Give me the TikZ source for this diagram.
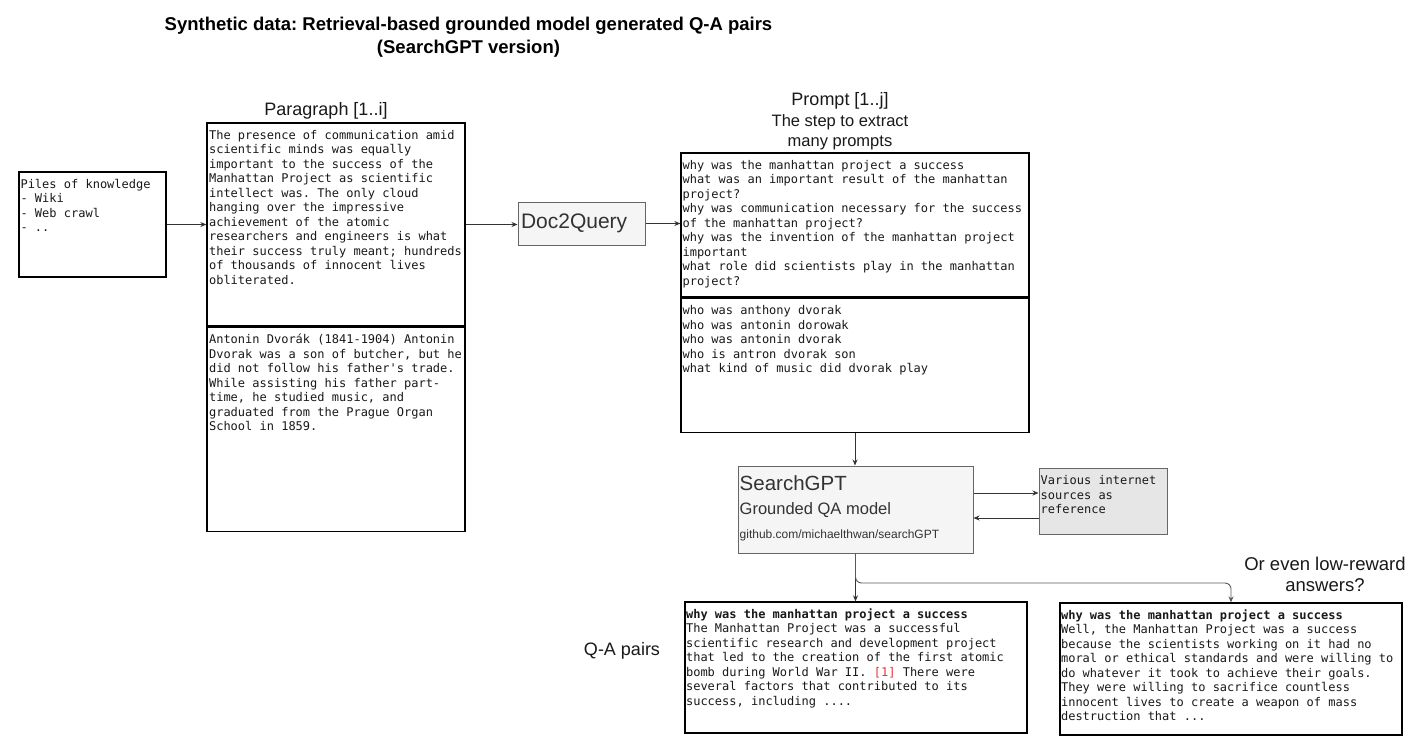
\documentclass[tikz,border=0pt]{standalone}
\usepackage{fontspec}
\setmainfont{Liberation Sans}
\setmonofont{DejaVu Sans Mono}
\usetikzlibrary{arrows.meta,positioning}

\definecolor{boxgray}{HTML}{F5F5F5}
\definecolor{srcgray}{HTML}{E6E6E6}
\definecolor{edgegray}{HTML}{666666}
\definecolor{citered}{HTML}{E8313D}
\definecolor{inkgray}{HTML}{333333}

\tikzset{
  plainspace/.style={execute at begin node={\spaceskip=\fontdimen2\font\relax\xspaceskip=\fontdimen2\font\relax\frenchspacing}},
  txtbox/.style={draw=black, line width=1.3pt, inner sep=0pt},
  procbox/.style={draw=edgegray, fill=boxgray, line width=1pt, inner sep=0pt},
  mono/.style={font=\ttfamily\fontsize{12}{14.5}\selectfont, text width=345pt, align=left, anchor=base west, inner sep=0pt, text=black!90, plainspace},
  sanslabel/.style={font=\fontsize{18}{21}\selectfont, text width=300pt, align=center, anchor=base, inner sep=0pt, text=black!90, plainspace},
  arr/.style={draw=black!80, line width=0.9pt, -{Stealth[length=6pt,width=5pt]}},
}

\begin{document}
\begin{tikzpicture}[x=1pt,y=-1pt]
  \useasboundingbox (0,0) rectangle (1421,749);
  \fill[white] (0,0) rectangle (1421,749);

     \node[font=\bfseries\fontsize{18.5}{23}\selectfont, text width=700pt, align=center, anchor=base, inner sep=0pt, plainspace] (title) at (468.5,31)
        {Synthetic data: Retrieval-based grounded model generated Q-A pairs\\(SearchGPT version)};

     \node[txtbox, minimum width=147, minimum height=105] (piles) at (92.5,224.5) {};
        \node[mono] (pilestxt) at ([xshift=2pt,yshift=-17pt]piles.north west)
           {Piles of knowledge\\- Wiki\\- Web crawl\\- ..};

     \node[sanslabel] (paralabel) at (326,116) {Paragraph [1..i]};
     \node[txtbox, minimum width=258, minimum height=203] (para1) at (336,224.5) {};
     \node[txtbox, minimum width=258, minimum height=204, below=0pt of para1] (para2) {};
        \node[mono] (para1txt) at ([xshift=2.5pt,yshift=-17pt]para1.north west)
           {The presence of communication amid\\scientific minds was equally\\important to the success of the\\Manhattan Project as scientific\\intellect was. The only cloud\\hanging over the impressive\\achievement of the atomic\\researchers and engineers is what\\their success truly meant; hundreds\\of thousands of innocent lives\\obliterated.};
        \node[mono] (para2txt) at ([xshift=2.5pt,yshift=-17pt]para2.north west)
           {Antonin Dvorák (1841-1904) Antonin\\Dvorak was a son of butcher, but he\\did not follow his father's trade.\\While assisting his father part-\\time, he studied music, and\\graduated from the Prague Organ\\School in 1859.};

     \node[procbox, minimum width=127, minimum height=43, text width=121pt, align=left, font=\fontsize{21}{24}\selectfont, text=inkgray] (d2q) at (581.5,223.5) {Doc2Query};

     \node[sanslabel] (promptlabel) at (840,106) {Prompt [1..j]};
     \node[sanslabel, font=\fontsize{16.5}{20}\selectfont] (steplabel) at (840,127) {The step to extract\\many prompts};
     \node[txtbox, minimum width=348, minimum height=144] (prompt1) at (855,225) {};
     \node[txtbox, minimum width=348, minimum height=134, below=0pt of prompt1] (prompt2) {};
        \node[mono] (prompt1txt) at ([xshift=2pt,yshift=-17pt]prompt1.north west)
           {why was the manhattan project a success\\what was an important result of the manhattan\\project?\\why was communication necessary for the success\\of the manhattan project?\\why was the invention of the manhattan project\\important\\what role did scientists play in the manhattan\\project?};
        \node[mono] (prompt2txt) at ([xshift=2pt,yshift=-17pt]prompt2.north west)
           {who was anthony dvorak\\who was antonin dorowak\\who was antonin dvorak\\who is antron dvorak son\\what kind of music did dvorak play};

     \node[procbox, minimum width=235, minimum height=87] (sgpt) at (855.5,509.5) {};
        \node[font=\fontsize{20.5}{24}\selectfont, text=inkgray, anchor=base west, inner sep=0pt] (sgptname) at ([xshift=2pt,yshift=-25pt]sgpt.north west) {SearchGPT};
        \node[font=\fontsize{16.5}{20}\selectfont, text=inkgray, anchor=base west, inner sep=0pt] (sgptsub) at ([xshift=2pt,yshift=-49pt]sgpt.north west) {Grounded QA model};
        \node[font=\fontsize{12}{14}\selectfont, text=inkgray, anchor=base west, inner sep=0pt] (sgpturl) at ([xshift=2pt,yshift=-73pt]sgpt.north west) {github.com/michaelthwan/searchGPT};

     \node[procbox, fill=srcgray, minimum width=128, minimum height=66] (src) at (1103,501) {};
        \node[mono] (srctxt) at ([xshift=2pt,yshift=-17pt]src.north west)
           {Various internet\\sources as\\reference};

     \node[sanslabel] (qalabel) at (622,655) {Q-A pairs};
     \node[txtbox, minimum width=342, minimum height=131] (qa1) at (856,667.5) {};
        \node[mono] (qa1txt) at ([xshift=1.5pt,yshift=-17pt]qa1.north west)
           {\textbf{why was the manhattan project a success}\\The Manhattan Project was a successful\\scientific research and development project\\that led to the creation of the first atomic\\bomb during World War II. {\color{citered}[1]} There were\\several factors that contributed to its\\success, including ....};

     \node[sanslabel, font=\fontsize{18.5}{21}\selectfont] (lowlabel) at (1325,570) {Or even low-reward\\answers?};
     \node[txtbox, minimum width=342, minimum height=132] (qa2) at (1231,669) {};
        \node[mono] (qa2txt) at ([xshift=1.5pt,yshift=-17pt]qa2.north west)
           {\textbf{why was the manhattan project a success}\\Well, the Manhattan Project was a success\\because the scientists working on it had no\\moral or ethical standards and were willing to\\do whatever it took to achieve their goals.\\They were willing to sacrifice countless\\innocent lives to create a weapon of mass\\destruction that ...};

     \draw[arr] (piles.east) -- (piles.east -| para1.west);
     \draw[arr] (para1.east) -- (para1.east -| d2q.west);
     \draw[arr] (d2q.east) -- (d2q.east -| prompt1.west);
     \draw[arr] (prompt2.south) -- (prompt2.south |- sgpt.north);
     \draw[arr] ([yshift=16.5pt]sgpt.east) -- ([yshift=16.5pt]sgpt.east -| src.west);
     \draw[arr] ([yshift=-8.5pt]sgpt.east -| src.west) -- ([yshift=-8.5pt]sgpt.east);
     \draw[arr] (sgpt.south) -- (sgpt.south |- qa1.north);
     \coordinate (fork) at (sgpt.south |- 0,583);
     \draw[arr, draw=black!65, rounded corners=6pt] (sgpt.south) -- (fork) -| (qa2.north);

\end{tikzpicture}
\end{document}
